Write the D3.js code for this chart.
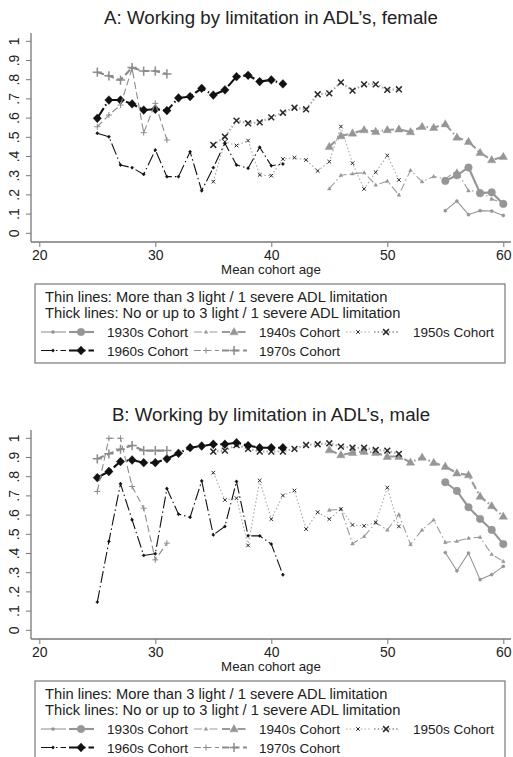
<!DOCTYPE html>
<html><head><meta charset="utf-8">
<script src="https://cdn.jsdelivr.net/npm/d3@7"></script>
<style>body{margin:0;background:#fff}svg{display:block}text{font-family:"Liberation Sans",Arial,Helvetica,sans-serif;fill:#222}</style>
</head><body>
<script>
// ---------- data ----------
const ages1930 = [55,56,57,58,59,60];
const ages1940 = [45,46,47,48,49,50,51,52,53,54,55,56,57,58,59,60];
const ages1950 = [35,36,37,38,39,40,41,42,43,44,45,46,47,48,49,50,51];
const ages1960 = [25,26,27,28,29,30,31,32,33,34,35,36,37,38,39,40,41];
const ages1970 = [25,26,27,28,29,30,31];

// Panel A: female
const f1930Thin  = [0.118,0.168,0.097,0.118,0.116,0.093];
const f1930Thick = [0.273,0.302,0.343,0.209,0.213,0.153];
const f1940Thin  = [0.232,0.302,0.310,0.316,0.252,0.272,0.200,0.328,0.269,0.296,0.283,0.326,0.222,0.218,0.178,0.158];
const f1940Thick = [0.451,0.507,0.521,0.538,0.530,0.538,0.542,0.528,0.556,0.550,0.569,0.500,0.477,0.420,0.382,0.399];
const f1950Thin  = [0.269,0.477,0.457,0.483,0.304,0.300,0.387,0.394,0.382,0.325,0.373,0.556,0.365,0.231,0.318,0.405,0.278];
const f1950Thick = [0.460,0.503,0.587,0.573,0.578,0.604,0.628,0.654,0.646,0.724,0.729,0.786,0.743,0.776,0.776,0.747,0.750];
const f1960Thin  = [0.521,0.503,0.356,0.342,0.307,0.434,0.295,0.295,0.425,0.222,0.342,0.469,0.356,0.339,0.448,0.352,0.361];
const f1960Thick = [0.599,0.694,0.694,0.674,0.642,0.646,0.639,0.705,0.712,0.755,0.720,0.747,0.816,0.823,0.790,0.799,0.778];
const f1970Thin  = [0.555,0.616,0.668,0.859,0.524,0.677,0.486];
const f1970Thick = [0.839,0.820,0.798,0.863,0.845,0.845,0.830];

// Panel B: male
const m1930Thin  = [0.405,0.310,0.402,0.264,0.290,0.333];
const m1930Thick = [0.771,0.726,0.641,0.580,0.523,0.449];
const m1940Thin  = [0.626,0.631,0.451,0.489,0.560,0.523,0.603,0.447,0.523,0.575,0.458,0.464,0.480,0.485,0.396,0.359];
const m1940Thick = [0.939,0.913,0.925,0.931,0.925,0.905,0.905,0.875,0.900,0.873,0.853,0.818,0.809,0.697,0.648,0.593];
const m1950Thin  = [0.821,0.679,0.688,0.442,0.780,0.579,0.702,0.728,0.527,0.615,0.579,0.631,0.549,0.544,0.562,0.743,0.541];
const m1950Thick = [0.931,0.936,0.965,0.945,0.931,0.931,0.931,0.945,0.965,0.969,0.974,0.957,0.951,0.951,0.939,0.936,0.919];
const m1960Thin  = [0.147,0.463,0.763,0.575,0.390,0.399,0.738,0.605,0.589,0.778,0.497,0.541,0.775,0.492,0.492,0.449,0.289];
const m1960Thick = [0.795,0.827,0.879,0.887,0.873,0.873,0.893,0.922,0.951,0.960,0.969,0.969,0.977,0.962,0.951,0.951,0.951];
const m1970Thin  = [0.723,1.000,1.000,0.749,0.636,0.367,0.454];
const m1970Thick = [0.893,0.919,0.943,0.962,0.936,0.936,0.936];

const cohortLabels = ["1930s Cohort","1940s Cohort","1950s Cohort","1960s Cohort","1970s Cohort"];
const xTicks = [20,30,40,50,60];
const yTicks = [0,0.1,0.2,0.3,0.4,0.5,0.6,0.7,0.8,0.9,1];
const yTickLabels = ["0",".1",".2",".3",".4",".5",".6",".7",".8",".9","1"];
const titles = ["A: Working by limitation in ADL\u2019s, female","B: Working by limitation in ADL\u2019s, male"];
const xTitle = "Mean cohort age";
const legendLines = ["Thin lines: More than 3 light / 1 severe ADL limitation","Thick lines: No or up to 3 light / 1 severe ADL limitation"];

// ---------- styles ----------
const styles = [
  {line:"#969696", mark:"#969696", dash:null, sym:"circle", thin:1.6, big:3.8},
  {line:"#9a9a9a", mark:"#969696", dash:"8,3,1.5,3", sym:"triangle", thin:2.0, big:4.4},
  {line:"#a8a8a8", mark:"#2a2a2a", dash:"1.5,2.2", sym:"times", thin:1.8, big:2.9},
  {line:"#111", mark:"#111", dash:"12,3,1.5,3", sym:"diamond", thin:1.7, big:4.4},
  {line:"#8c8c8c", mark:"#8c8c8c", dash:"7,3.5", sym:"plus", thin:3.0, big:4.6}
];

const W = 513, H = 757;
const svg = d3.select("body").append("svg").attr("width",W).attr("height",H);

function symPath(type, r){
  const p = d3.path();
  switch(type){
    case "circle": p.arc(0,0,r,0,2*Math.PI); p.closePath(); break;
    case "triangle": p.moveTo(0,-r); p.lineTo(r*0.95,r*0.65); p.lineTo(-r*0.95,r*0.65); p.closePath(); break;
    case "diamond": p.moveTo(0,-r); p.lineTo(r*0.95,0); p.lineTo(0,r); p.lineTo(-r*0.95,0); p.closePath(); break;
    case "times": p.moveTo(-r,-r); p.lineTo(r,r); p.moveTo(-r,r); p.lineTo(r,-r); break;
    case "plus": p.moveTo(-r,0); p.lineTo(r,0); p.moveTo(0,-r); p.lineTo(0,r); break;
  }
  return p.toString();
}
function isStroke(type){ return type==="times"||type==="plus"; }

function drawMarks(sel, st, thick){
  sel.attr("d",symPath(st.sym, thick?st.big:st.thin))
    .attr("fill",isStroke(st.sym)?"none":st.mark)
    .attr("stroke",st.mark)
    .attr("stroke-width",isStroke(st.sym)?(thick?1.5:1.0):0.4);
}

function drawPanel(offY, title, series){
  const g = svg.append("g").attr("transform",`translate(0,${offY})`);
  const plotL = 31, plotR = 511, plotT = 33, plotB = 242;
  const x = d3.scaleLinear().domain([20,60]).range([39.3,503.3]);
  const y = d3.scaleLinear().domain([0,1]).range([233.3,41.3]);

  g.append("text").attr("x",271).attr("y",24).attr("text-anchor","middle")
    .style("font-size","18.7px").text(title);

  // axes
  const ax = g.append("g").attr("transform",`translate(0,${plotB})`)
    .call(d3.axisBottom(x).tickValues(xTicks).tickSize(5).tickFormat(d3.format("d")));
  ax.select(".domain").remove();
  ax.selectAll("line").attr("stroke","#777");
  ax.selectAll("text").style("font-size","14px").attr("y",8).attr("fill","#222");
  g.append("line").attr("x1",plotL).attr("x2",plotR).attr("y1",plotB).attr("y2",plotB).attr("stroke","#777").attr("stroke-width",1.3);

  const ay = g.append("g").attr("transform",`translate(${plotL},0)`)
    .call(d3.axisLeft(y).tickValues(yTicks).tickSize(5).tickFormat((d,i)=>yTickLabels[i]));
  ay.select(".domain").remove();
  ay.selectAll("line").attr("stroke","#777");
  ay.selectAll("text").style("font-size","14px").attr("fill","#222")
    .attr("x",0).attr("dy",null).attr("text-anchor","middle").attr("dominant-baseline","central")
    .attr("transform",function(d){return `translate(-17,${y(d)}) rotate(-90)`;}).attr("y",0);
  ay.selectAll(".tick").attr("transform",null);
  ay.selectAll(".tick line").attr("y1",d=>y(d)).attr("y2",d=>y(d));
  g.append("line").attr("x1",plotL).attr("x2",plotL).attr("y1",plotT).attr("y2",plotB).attr("stroke","#777").attr("stroke-width",1.3);

  g.append("text").attr("x",271).attr("y",274).attr("text-anchor","middle")
    .style("font-size","13.3px").text(xTitle);

  const line = d3.line().x(d=>x(d[0])).y(d=>y(d[1]));
  series.forEach(s=>{
    const st = styles[s.c];
    const pts = s.ages.map((a,i)=>[a,s.vals[i]]);
    g.append("path").attr("d",line(pts)).attr("fill","none")
      .attr("stroke",st.line).attr("stroke-width",s.thick?2.1:1.1)
      .attr("stroke-dasharray",st.dash);
    g.selectAll(null).data(pts).enter().append("path")
      .attr("transform",d=>`translate(${x(d[0])},${y(d[1])})`)
      .call(drawMarks, st, s.thick);
  });

  // legend
  const lg = g.append("g");
  lg.append("rect").attr("x",35).attr("y",284).attr("width",470).attr("height",79)
    .attr("fill","#fff").attr("stroke","#777").attr("stroke-width",1.2);
  legendLines.forEach((t,i)=>{
    lg.append("text").attr("x",45).attr("y",302+i*15.5).style("font-size","14.7px").text(t);
  });
  const keyPos = [[41,107,332],[194,259,332],[346,413,332],[41,107,350.5],[194,259,350.5]];
  cohortLabels.forEach((lab,c)=>{
    const [kx,tx,ky] = keyPos[c];
    const st = styles[c];
    [false,true].forEach((thick,j)=>{
      const x0 = kx + j*28, x1 = x0+25;
      lg.append("line").attr("x1",x0).attr("x2",x1).attr("y1",ky).attr("y2",ky)
        .attr("stroke",st.line).attr("stroke-width",thick?2.1:1.1).attr("stroke-dasharray",st.dash);
      lg.append("path").attr("transform",`translate(${x0+12},${ky})`).call(drawMarks, st, thick);
    });
    lg.append("text").attr("x",tx).attr("y",ky+5).style("font-size","13.5px").text(lab);
  });
}

function seriesList(t1930,k1930,t1940,k1940,t1950,k1950,t1960,k1960,t1970,k1970){
  return [
    {c:0,ages:ages1930,vals:t1930,thick:false},{c:0,ages:ages1930,vals:k1930,thick:true},
    {c:1,ages:ages1940,vals:t1940,thick:false},{c:1,ages:ages1940,vals:k1940,thick:true},
    {c:2,ages:ages1950,vals:t1950,thick:false},{c:2,ages:ages1950,vals:k1950,thick:true},
    {c:3,ages:ages1960,vals:t1960,thick:false},{c:3,ages:ages1960,vals:k1960,thick:true},
    {c:4,ages:ages1970,vals:t1970,thick:false},{c:4,ages:ages1970,vals:k1970,thick:true}
  ];
}

drawPanel(0, titles[0], seriesList(f1930Thin,f1930Thick,f1940Thin,f1940Thick,f1950Thin,f1950Thick,f1960Thin,f1960Thick,f1970Thin,f1970Thick));
drawPanel(397, titles[1], seriesList(m1930Thin,m1930Thick,m1940Thin,m1940Thick,m1950Thin,m1950Thick,m1960Thin,m1960Thick,m1970Thin,m1970Thick));
</script>
</body></html>
